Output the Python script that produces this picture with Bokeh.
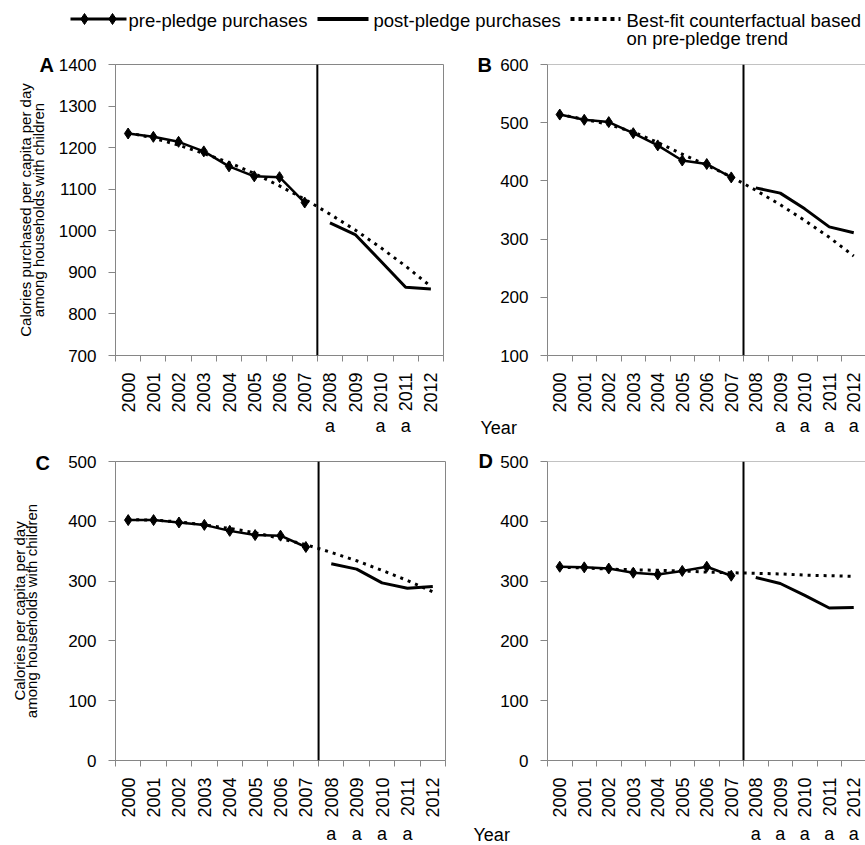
import math
from bokeh.plotting import figure
from bokeh.models import FixedTicker, Span, Range1d
from bokeh.layouts import column, row
from bokeh.embed import file_html
from bokeh.resources import INLINE
from bokeh.core.properties import value

# ---------------- data ----------------
years = ["2000", "2001", "2002", "2003", "2004", "2005", "2006",
         "2007", "2008", "2009", "2010", "2011", "2012"]
pre_years = years[:8]
post_years = years[8:]

A_pre = [1234, 1226, 1214, 1191, 1155, 1131, 1129, 1068]
A_post = [1019, 991, 928, 864, 860]
A_cf = [1236, 1223, 1206, 1186, 1164, 1138, 1108, 1076, 1040, 1002, 960, 915, 866]
A_sig = ["2008", "2010", "2011"]

B_pre = [514, 505, 501, 482, 461, 435, 429, 406]
B_post = [388, 379, 352, 321, 311]
B_cf = [514, 506, 497, 484, 466, 446, 427, 407, 384, 359, 332, 303, 271]
B_sig = ["2009", "2010", "2011", "2012"]

C_pre = [402, 402, 398, 394, 384, 377, 376, 357]
C_post = [329, 320, 297, 288, 291]
C_cf = [403, 402, 399, 394, 388, 381, 371, 361, 348, 334, 318, 301, 282]
C_sig = ["2008", "2009", "2010", "2011"]

D_pre = [324, 323, 321, 314, 311, 317, 324, 309]
D_post = [306, 296, 276, 255, 256]
D_cf = [323, 322, 320, 319, 318, 317, 315, 314, 313, 312, 310, 309, 308]
D_sig = ["2008", "2009", "2010", "2011", "2012"]

legend_labels = ["pre-pledge purchases", "post-pledge purchases",
                 "Best-fit counterfactual based", "on pre-pledge trend"]
ytitle_A = "Calories purchased per capita per day\namong households with children"
ytitle_C = "Calories per capita per day\namong households with children"

FONT = "Liberation Sans"
GRAY = "#868686"
DOT = "3 5"

idx = {y: i for i, y in enumerate(years)}


def panel(letter, ylo, yhi, pre, post, cf, w, h, bl, bt, br, bb, xend,
          full_box, ytitle, ytitle_standoff, letter_offset, letter_standoff):
    p = figure(width=w, height=h, output_backend="svg", toolbar_location=None,
               x_range=Range1d(-0.5, xend), y_range=Range1d(ylo, yhi),
               min_border_left=bl, min_border_top=bt, min_border_right=br,
               min_border_bottom=bb)
    p.grid.visible = False
    p.background_fill_color = "white"
    p.border_fill_color = "white"
    if full_box:
        p.outline_line_color = GRAY
        p.outline_line_width = 1
    else:
        p.outline_line_color = None
        p.add_layout(Span(location=yhi, dimension="width", line_color=GRAY, line_width=1))

    # panel letter as the plot title
    p.title.text = letter
    p.title.align = "left"
    p.title.offset = letter_offset
    p.title.vertical_align = "bottom"
    p.title.standoff = letter_standoff
    p.title.text_font = FONT
    p.title.text_font_size = "20px"
    p.title.text_font_style = "bold"
    p.title.text_color = "black"

    # x axis: year labels at category centres, ticks at the boundaries
    xa = p.xaxis[0]
    xa.ticker = FixedTicker(ticks=list(range(len(years))),
                            minor_ticks=[i - 0.5 for i in range(len(years) + 1)])
    xa.major_label_overrides = {i: y for i, y in enumerate(years)}
    xa.major_label_orientation = math.pi / 2
    xa.major_tick_out = 0
    xa.major_tick_in = 0
    xa.minor_tick_out = 6
    xa.minor_tick_in = 0
    xa.minor_tick_line_color = GRAY
    xa.axis_line_color = GRAY
    xa.major_label_standoff = 11
    xa.major_label_text_font = FONT
    xa.major_label_text_font_size = "18px"
    xa.major_label_text_color = "black"

    ya = p.yaxis[0]
    ya.ticker = FixedTicker(ticks=list(range(ylo, yhi + 1, 100)))
    ya.minor_tick_line_color = None
    ya.major_tick_out = 7
    ya.major_tick_in = 0
    ya.major_tick_line_color = GRAY
    ya.axis_line_color = GRAY
    ya.major_label_standoff = 12
    ya.major_label_text_font = FONT
    ya.major_label_text_font_size = "17px"
    ya.major_label_text_color = "black"
    if ytitle is not None:
        ya.axis_label = ytitle
        ya.axis_label_standoff = ytitle_standoff
        ya.axis_label_text_font = FONT
        ya.axis_label_text_font_size = "15px"
        ya.axis_label_text_font_style = "normal"
        ya.axis_label_text_color = "black"
        ya.axis_label_text_line_height = 0.72

    # pledge divider
    p.add_layout(Span(location=7.5, dimension="height", line_color="black", line_width=2))

    xs_all = [idx[y] for y in years]
    xs_pre = [idx[y] for y in pre_years]
    xs_post = [idx[y] for y in post_years]
    p.line(xs_all, cf, line_color="black", line_width=3, line_dash=DOT)
    p.line(xs_pre, pre, line_color="black", line_width=2.5)
    p.scatter(xs_pre, pre, marker="diamond", size=11, color="black")
    p.line(xs_post, post, line_color="black", line_width=3)
    return p


def strip(w, h, bl, br, xend, sig, text_y, year=None):
    """Row under a panel holding the significance marks; same x mapping as the panel."""
    fw = w - bl - br
    kx = fw / (xend + 0.5)
    s = figure(width=w, height=h, output_backend="svg", toolbar_location=None,
               x_range=Range1d(-0.5 - bl / kx, xend + br / kx),
               y_range=Range1d(h, 0), min_border=0)
    s.axis.visible = False
    s.grid.visible = False
    s.outline_line_color = None
    s.text([idx[v] for v in sig], [text_y] * len(sig), text=["a"] * len(sig),
           text_font=value(FONT), text_font_size="18px", text_align="center",
           text_baseline="middle", text_color="black")
    if year is not None:
        s.text([-0.5 - bl / kx], [year[1]], text=["Year"], x_offset=year[0],
               text_font=value(FONT), text_font_size="18px", text_align="left",
               text_baseline="middle", text_color="black")
    return s


# ---------------- legend strip ----------------
leg = figure(width=865, height=50, output_backend="svg", toolbar_location=None,
             x_range=Range1d(0, 865), y_range=Range1d(50, 0), min_border=0)
leg.axis.visible = False
leg.grid.visible = False
leg.outline_line_color = None
LY = 18.5
leg.line([70, 126], [LY, LY], line_color="black", line_width=3)
leg.scatter([84, 112], [LY, LY], marker="diamond", size=11, color="black")
leg.line([317, 368], [LY, LY], line_color="black", line_width=4)
leg.line([570, 620], [LY, LY], line_color="black", line_width=4, line_dash="4 4")
leg.text([128, 373, 626, 626], [LY + 1, LY + 1, LY + 1, 37.5], text=legend_labels,
         text_font=value(FONT), text_font_size="18.5px", text_baseline="middle",
         text_color="black")

# ---------------- panels ----------------
XEND = -0.5 + 318 / 24.5
H1 = 14 + 294 + 57
H2 = 21 + 302 + 57
pA = panel("A", 700, 1400, A_pre, A_post, A_cf,
           460, H1, 115, 14, 17, 57, 12.5, True, ytitle_A, 9, -76, -23.8)
pB = panel("B", 100, 600, B_pre, B_post, B_cf,
           405, H1, 87, 14, 0, 57, XEND, False, None, 0, -70, -23.8)
pC = panel("C", 0, 500, C_pre, C_post, C_cf,
           460, H2, 115, 21, 15, 57, 12.5, True, ytitle_C, 25, -80, -24)
pD = panel("D", 0, 500, D_pre, D_post, D_cf,
           405, H2, 87, 21, 0, 57, XEND, False, None, 0, -69, -20.8)

sA = strip(460, 25, 115, 17, 12.5, A_sig, 10.4)
sB = strip(405, 25, 87, 0, XEND, B_sig, 10.4, year=(20, 12))
sC = strip(460, 25, 115, 15, 12.5, C_sig, 13.4)
sD = strip(405, 25, 87, 0, XEND, D_sig, 13.4, year=(13, 14.5))

layout = column(leg, row(pA, pB), row(sA, sB), row(pC, pD), row(sC, sD))

with open("out.html", "w") as f:
    f.write(file_html(layout, INLINE))
